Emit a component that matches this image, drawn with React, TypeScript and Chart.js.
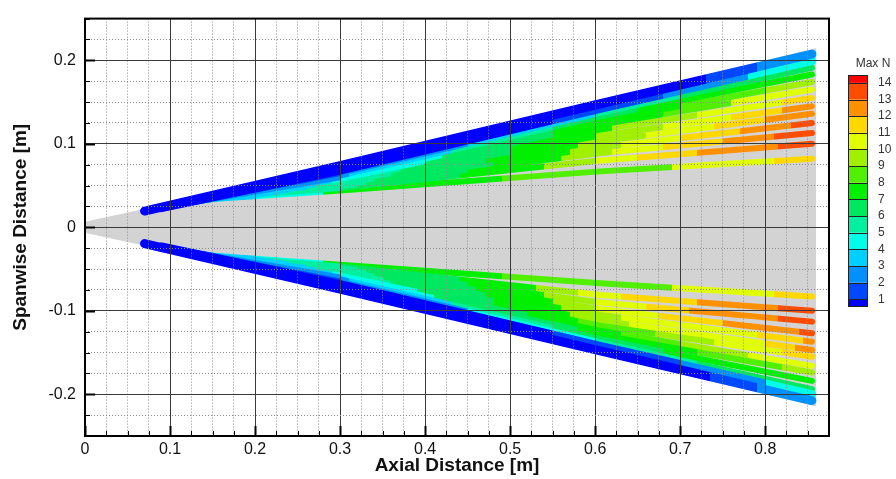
import React, { useEffect, useRef } from 'react';
import { Chart, registerables } from 'chart.js';

Chart.register(...registerables);

// ---- Colour legend (Max N) ----
const levelLabels = [1, 2, 3, 4, 5, 6, 7, 8, 9, 10, 11, 12, 13, 14];
// bin 0 = below 1, bin k = between k and k+1, bin 14 = above 14
const binColors = [
  '#0000ff', '#0048ff', '#0090ff', '#00d0ff', '#00ffe8', '#00f0a0', '#00e860',
  '#00f000', '#50f000', '#a0f000', '#e0ff00', '#ffd800', '#ff9000', '#ff4c00', '#ff0000',
];

// ---- Wing planform (grey) ----
const wingX = [0, 0.068, 0.86];
const wingUpperY = [0.006, 0.021, 0.214];
const wingLowerY = [-0.006, -0.021, -0.214];

// ---- Streaks: index 0 = leading-edge band, then inward ----
const streakStartX = [0.07, 0.09, 0.10, 0.11, 0.12, 0.13, 0.13, 0.14, 0.14, 0.15, 0.15, 0.15, 0.15];
const streakProfileX = [0.3, 0.606];
const streakEndX = [0.855, 0.855, 0.855, 0.855, 0.855, 0.855, 0.855, 0.855, 0.855, 0.855, 0.855, 0.855, 0.855];

const upperStartY = [0.0195, 0.023, 0.025, 0.027, 0.029, 0.031, 0.031, 0.033, 0.033, 0.035, 0.035, 0.035, 0.034];
const upperY030 = [0.074, 0.068, 0.065, 0.062, 0.060, 0.058, 0.056, 0.054, 0.052, 0.050, 0.049, 0.047, 0.044];
const upperY061 = [0.148, 0.142, 0.137, 0.133, 0.128, 0.123, 0.117, 0.110, 0.103, 0.096, 0.089, 0.080, 0.067];
const upperEndY = [0.2075, 0.199, 0.191, 0.183, 0.174, 0.165, 0.155, 0.145, 0.136, 0.125, 0.113, 0.100, 0.082];
const upperStops = [
  [0.73, 0.79],
  [0.55, 0.68, 0.78],
  [0.3, 0.45, 0.6, 0.7],
  [0.31, 0.43, 0.55, 0.65],
  [0.3, 0.42, 0.55, 0.7, 0.8],
  [0.29, 0.4, 0.55, 0.68, 0.76],
  [0.27, 0.37, 0.5, 0.62, 0.72, 0.82],
  [0.26, 0.36, 0.5, 0.6, 0.68, 0.76, 0.82],
  [0.24, 0.34, 0.47, 0.58, 0.66, 0.74, 0.8],
  [0.23, 0.33, 0.48, 0.57, 0.63, 0.7, 0.77, 0.83],
  [0.22, 0.32, 0.45, 0.56, 0.62, 0.68, 0.75, 0.81],
  [0.21, 0.3, 0.44, 0.54, 0.6, 0.65, 0.72, 0.815],
  [0.2, 0.28, 0.49, 0.69, 0.81],
];
const upperBins = [
  [0, 1, 2],
  [0, 1, 2, 4],
  [1, 2, 3, 5, 6],
  [2, 3, 5, 6, 7],
  [2, 4, 6, 7, 8, 9],
  [3, 4, 6, 7, 8, 10],
  [3, 5, 6, 7, 9, 10, 11],
  [3, 5, 6, 7, 9, 10, 11, 12],
  [3, 5, 6, 7, 9, 10, 11, 12],
  [3, 5, 6, 7, 9, 10, 11, 12, 13],
  [3, 5, 6, 7, 9, 10, 11, 12, 13],
  [3, 5, 6, 7, 9, 10, 11, 12, 13],
  [3, 4, 7, 8, 10, 11],
];

const lowerStartY = [-0.0195, -0.023, -0.025, -0.027, -0.029, -0.031, -0.031, -0.033, -0.033, -0.035, -0.035, -0.035, -0.034];
const lowerY030 = [-0.074, -0.068, -0.065, -0.062, -0.060, -0.058, -0.056, -0.054, -0.052, -0.050, -0.049, -0.047, -0.045];
const lowerY061 = [-0.148, -0.142, -0.138, -0.134, -0.129, -0.124, -0.118, -0.112, -0.105, -0.098, -0.090, -0.081, -0.067];
const lowerEndY = [-0.2075, -0.200, -0.194, -0.184, -0.174, -0.166, -0.155, -0.147, -0.137, -0.127, -0.113, -0.100, -0.083];
const lowerStops = [
  [0.735, 0.79],
  [0.55, 0.7, 0.8],
  [0.3, 0.45, 0.6, 0.72],
  [0.31, 0.43, 0.55, 0.68],
  [0.3, 0.41, 0.58, 0.72, 0.82],
  [0.29, 0.39, 0.52, 0.63, 0.7, 0.78],
  [0.27, 0.36, 0.48, 0.58, 0.67, 0.74, 0.82],
  [0.26, 0.35, 0.48, 0.57, 0.64, 0.8, 0.835],
  [0.24, 0.34, 0.47, 0.56, 0.63, 0.79, 0.845],
  [0.23, 0.33, 0.46, 0.55, 0.6, 0.675, 0.75, 0.84],
  [0.22, 0.32, 0.45, 0.54, 0.6, 0.66, 0.71, 0.815],
  [0.21, 0.3, 0.44, 0.53, 0.58, 0.63, 0.72, 0.815],
  [0.2, 0.28, 0.49, 0.69, 0.81],
];
const lowerBins = [
  [0, 1, 2],
  [0, 1, 2, 4],
  [1, 2, 4, 5, 6],
  [2, 3, 5, 6, 7],
  [2, 4, 6, 7, 8, 9],
  [3, 4, 6, 7, 8, 9, 10],
  [3, 5, 6, 7, 8, 9, 10, 11],
  [3, 5, 6, 7, 9, 10, 11, 12],
  [3, 5, 6, 7, 9, 10, 11, 12],
  [3, 5, 6, 7, 9, 10, 11, 12, 13],
  [3, 5, 6, 7, 9, 10, 11, 12, 13],
  [3, 5, 6, 7, 9, 10, 11, 12, 13],
  [3, 4, 7, 8, 10, 11],
];

const FONT = "'Liberation Sans', Arial, Helvetica, sans-serif";

const isMajor = (v: number) => Math.abs(v * 10 - Math.round(v * 10)) < 1e-6;
const fmt = (v: number) => {
  if (!isMajor(v)) return '';
  const r = Math.round(v * 10) / 10;
  return r === 0 ? '0' : r.toFixed(1);
};

function gradientFor(chart: any, stops: number[], bins: number[]) {
  const area = chart.chartArea;
  const xs = chart.scales && chart.scales.x;
  if (!area || !xs) return binColors[bins[0]];
  const g = chart.ctx.createLinearGradient(area.left, 0, area.right, 0);
  const w = area.right - area.left;
  g.addColorStop(0, binColors[bins[0]]);
  stops.forEach((sx, i) => {
    const f = Math.min(1, Math.max(0, (xs.getPixelForValue(sx) - area.left) / w));
    g.addColorStop(f, binColors[bins[i]]);
    g.addColorStop(f, binColors[bins[i + 1]]);
  });
  g.addColorStop(1, binColors[bins[bins.length - 1]]);
  return g;
}

function streakDatasets(
  startY: number[], y030: number[], y061: number[], endY: number[],
  stops: number[][], bins: number[][],
) {
  return startY.map((sy, i) => ({
    data: [
      { x: streakStartX[i], y: sy },
      { x: streakProfileX[0], y: y030[i] },
      { x: streakProfileX[1], y: y061[i] },
      { x: streakEndX[i], y: endY[i] },
    ],
    borderWidth: i === 0 ? 9 : i === 1 ? 8 : 6,
    borderCapStyle: 'round',
    borderJoinStyle: 'round',
    pointRadius: 0,
    fill: false,
    tension: 0,
    order: i + 1,
    borderColor: (c: any) => gradientFor(c.chart, stops[i], bins[i]),
  }));
}

const framePlugin = {
  id: 'frameTicks',
  afterDraw(chart: any) {
    const { ctx, chartArea: a } = chart;
    const xs = chart.scales.x;
    const ys = chart.scales.y;
    ctx.save();
    ctx.strokeStyle = '#000';
    xs.ticks.forEach((t: any) => {
      const px = Math.round(xs.getPixelForValue(t.value)) + 0.5;
      const major = isMajor(t.value);
      ctx.lineWidth = major ? 2 : 1;
      ctx.beginPath();
      ctx.moveTo(px, a.bottom);
      ctx.lineTo(px, a.bottom - (major ? 10 : 5));
      ctx.stroke();
    });
    ys.ticks.forEach((t: any) => {
      const py = Math.round(ys.getPixelForValue(t.value)) + 0.5;
      const major = isMajor(t.value);
      ctx.lineWidth = major ? 2 : 1;
      ctx.beginPath();
      ctx.moveTo(a.left, py);
      ctx.lineTo(a.left + (major ? 10 : 5), py);
      ctx.stroke();
    });
    ctx.lineWidth = 2;
    ctx.strokeRect(a.left, a.top, a.right - a.left, a.bottom - a.top);
    ctx.restore();
  },
};

const colorbarPlugin = {
  id: 'colorbar',
  afterDraw(chart: any) {
    const ctx = chart.ctx;
    const left = 848;
    const width = 20;
    const top = 75;
    const bottom = 307;
    const step = 16.65;
    const yFirst = 299.3;
    const yOf = (lvl: number) => yFirst - (lvl - levelLabels[0]) * step;
    ctx.save();
    binColors.forEach((c, b) => {
      const yTop = b === binColors.length - 1 ? top : yOf(levelLabels[b]);
      const yBot = b === 0 ? bottom : yOf(levelLabels[b - 1]);
      ctx.fillStyle = c;
      ctx.fillRect(left, yTop, width, yBot - yTop);
    });
    ctx.strokeStyle = '#222';
    ctx.lineWidth = 1;
    levelLabels.forEach((l) => {
      const y = Math.round(yOf(l)) + 0.5;
      ctx.beginPath();
      ctx.moveTo(left, y);
      ctx.lineTo(left + width, y);
      ctx.stroke();
    });
    ctx.strokeRect(left + 0.5, top + 0.5, width - 1, bottom - top - 1);
    ctx.fillStyle = '#333';
    ctx.font = `12px ${FONT}`;
    ctx.textAlign = 'left';
    ctx.textBaseline = 'middle';
    levelLabels.forEach((l) => ctx.fillText(String(l), 878, yOf(l)));
    ctx.textAlign = 'center';
    ctx.fillText('Max N', 873, 64);
    ctx.restore();
  },
};

export default function App() {
  const ref = useRef<HTMLCanvasElement | null>(null);

  useEffect(() => {
    if (!ref.current) return;
    const wingUpper = wingX.map((x, i) => ({ x, y: wingUpperY[i] }));
    const wingLower = wingX.map((x, i) => ({ x, y: wingLowerY[i] }));
    const grey = '#d3d3d3';
    const datasets: any[] = [
      ...streakDatasets(upperStartY, upperY030, upperY061, upperEndY, upperStops, upperBins),
      ...streakDatasets(lowerStartY, lowerY030, lowerY061, lowerEndY, lowerStops, lowerBins),
      { data: wingUpper, borderColor: grey, borderWidth: 1, pointRadius: 0, fill: 'origin', backgroundColor: grey, order: 100, tension: 0 },
      { data: wingLower, borderColor: grey, borderWidth: 1, pointRadius: 0, fill: 'origin', backgroundColor: grey, order: 101, tension: 0 },
    ];

    const gridOpts = {
      z: 1,
      drawTicks: false,
      color: (c: any) => (c.tick && isMajor(c.tick.value) ? '#3a3a3a' : '#8c8c8c'),
      lineWidth: 1,
    };
    const borderOpts = {
      display: false,
      dash: (c: any) => (c.tick && !isMajor(c.tick.value) ? [1, 2] : []),
    };

    const chart = new Chart(ref.current, {
      type: 'line',
      data: { datasets },
      plugins: [framePlugin, colorbarPlugin],
      options: {
        animation: false,
        responsive: false,
        events: [],
        layout: { padding: { top: 10, right: 67, left: 0, bottom: 0 } },
        plugins: { legend: { display: false }, tooltip: { enabled: false } },
        scales: {
          x: {
            type: 'linear',
            min: 0,
            max: 0.875,
            afterFit: (s: any) => { s.height = 43; },
            grid: gridOpts,
            border: borderOpts,
            ticks: {
              stepSize: 0.025,
              autoSkip: false,
              maxRotation: 0,
              padding: 4,
              color: '#111',
              font: { family: FONT, size: 16 },
              callback: (v: any) => fmt(Number(v)),
            },
            title: {
              display: true,
              text: 'Axial Distance [m]',
              color: '#111',
              font: { family: FONT, size: 19, weight: 'bold', lineHeight: 1.2 },
              padding: { top: 0, bottom: 2 },
            },
          },
          y: {
            type: 'linear',
            min: -0.25,
            max: 0.25,
            afterFit: (s: any) => { s.width = 85; },
            grid: gridOpts,
            border: borderOpts,
            ticks: {
              stepSize: 0.025,
              autoSkip: false,
              padding: 9,
              color: '#111',
              font: { family: FONT, size: 16 },
              callback: (v: any) => fmt(Number(v)),
            },
            title: {
              display: true,
              text: 'Spanwise Distance [m]',
              color: '#111',
              font: { family: FONT, size: 19, weight: 'bold', lineHeight: 1.2 },
              padding: { top: 9, bottom: 0 },
            },
          },
        },
      } as any,
    });
    return () => chart.destroy();
  }, []);

  return (
    <div style={{ position: 'fixed', left: 0, top: 0, width: 896, height: 479, background: '#fff' }}>
      <canvas ref={ref} width={896} height={479} style={{ display: 'block' }} />
    </div>
  );
}
